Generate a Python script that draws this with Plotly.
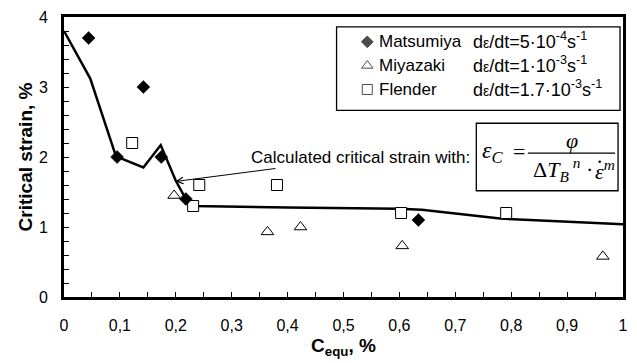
import plotly.graph_objects as go

# Measured critical strain (%) versus carbon equivalent (%)
mat_x = [0.044, 0.095, 0.142, 0.174, 0.218, 0.634]
mat_y = [3.70, 2.00, 3.00, 2.00, 1.40, 1.10]

miy_x = [0.197, 0.364, 0.423, 0.605, 0.964]
miy_y = [1.45, 0.93, 1.00, 0.73, 0.58]

fle_x = [0.122, 0.231, 0.242, 0.381, 0.603, 0.791]
fle_y = [2.20, 1.30, 1.60, 1.60, 1.20, 1.20]

# Calculated critical strain curve
calc_x = [0.0, 0.047, 0.093, 0.142, 0.173, 0.200, 0.218, 0.231, 0.40, 0.60, 0.64, 0.70, 0.78, 1.0]
calc_y = [3.80, 3.12, 2.01, 1.85, 2.17, 1.66, 1.40, 1.30, 1.28, 1.26, 1.245, 1.19, 1.12, 1.04]

x_ticks = [i / 10 for i in range(11)]
x_ticktext = ["0", "0,1", "0,2", "0,3", "0,4", "0,5", "0,6", "0,7", "0,8", "0,9", "1"]
y_ticks = [0, 1, 2, 3, 4]

series_names = ["Matsumiya", "Miyazaki", "Flender"]
series_rates = [
    "d<span style='font-size:14px'>ε</span>/dt=5·10<sup>-4</sup>s<sup>-1</sup>",
    "d<span style='font-size:14px'>ε</span>/dt=1·10<sup>-3</sup>s<sup>-1</sup>",
    "d<span style='font-size:14px'>ε</span>/dt=1.7·10<sup>-3</sup>s<sup>-1</sup>",
]
series_symbols = ["diamond", "triangle-up", "square"]
series_fill = ["black", "white", "white"]
series_sizes = [9, 10, 10]

SANS = "Liberation Sans, Arial, sans-serif"
SERIF = "Liberation Serif, Times New Roman, serif"

W, H = 637, 363
ML, MR, MT, MB = 64, 9, 15, 66
PW, PH = W - ML - MR, H - MT - MB


def px(xp):
    return (xp - ML) / PW


def py(yp):
    return (H - MB - yp) / PH


fig = go.Figure()

fig.add_trace(go.Scatter(
    x=calc_x, y=calc_y, mode="lines",
    line=dict(color="black", width=2.5), showlegend=False, hoverinfo="skip",
))
fig.add_trace(go.Scatter(
    x=miy_x, y=miy_y, mode="markers", name="Miyazaki",
    marker=dict(symbol="triangle-up", size=11, color="white",
                line=dict(color="black", width=1)),
    showlegend=False,
))
fig.add_trace(go.Scatter(
    x=fle_x, y=fle_y, mode="markers", name="Flender",
    marker=dict(symbol="square", size=11, color="white",
                line=dict(color="black", width=1)),
    showlegend=False,
))
fig.add_trace(go.Scatter(
    x=mat_x, y=mat_y, mode="markers", name="Matsumiya",
    marker=dict(symbol="diamond", size=10, color="black",
                line=dict(color="black", width=0.5)),
    showlegend=False,
))

# Key box with symbols on an overlay axis spanning the plotting area
row_y = [40, 64, 88]
fig.add_trace(go.Scatter(
    x=[px(370)] * 3, y=[py(v) for v in row_y], mode="markers",
    xaxis="x2", yaxis="y2", showlegend=False, hoverinfo="skip",
    marker=dict(symbol=series_symbols, size=series_sizes, color=series_fill,
                line=dict(color="black", width=1)),
))

annotations = []
for name, rate, yv in zip(series_names, series_rates, row_y):
    annotations.append(dict(
        xref="paper", yref="paper", x=px(380), y=py(yv), text=name,
        showarrow=False, xanchor="left", yanchor="middle",
        font=dict(family=SANS, size=17, color="black"),
    ))
    annotations.append(dict(
        xref="paper", yref="paper", x=px(475), y=py(yv - 1), text=rate,
        showarrow=False, xanchor="left", yanchor="middle",
        font=dict(family=SANS, size=18, color="black"),
    ))

# Pointer to the calculated curve
annotations.append(dict(
    x=0.199, y=1.65, xref="x", yref="y",
    text="Calculated critical strain with:",
    showarrow=True, arrowhead=5, arrowsize=1.3, arrowwidth=1, arrowcolor="black",
    ax=185, ay=-24, xanchor="center", yanchor="middle",
    font=dict(family=SANS, size=17, color="black"),
))

# Formula for the calculated critical strain
annotations.append(dict(
    xref="paper", yref="paper", x=px(484), y=py(151), text="<i>ε<sub>C</sub></i>",
    showarrow=False, xanchor="left", yanchor="middle",
    font=dict(family=SERIF, size=24, color="black"),
))
annotations.append(dict(
    xref="paper", yref="paper", x=px(523), y=py(150), text="=",
    showarrow=False, xanchor="center", yanchor="middle",
    font=dict(family=SERIF, size=22, color="black"),
))
annotations.append(dict(
    xref="paper", yref="paper", x=px(577), y=py(139), text="<i>φ</i>",
    showarrow=False, xanchor="center", yanchor="middle",
    font=dict(family=SERIF, size=22, color="black"),
))
annotations.append(dict(
    xref="paper", yref="paper", x=px(535), y=py(169),
    text="Δ<i>T<sub>B</sub></i><sup> <i>n</i></sup> ·",
    showarrow=False, xanchor="left", yanchor="middle",
    font=dict(family=SERIF, size=22, color="black"),
))
annotations.append(dict(
    xref="paper", yref="paper", x=px(598), y=py(169),
    text="<i>ε<sup>m</sup></i>",
    showarrow=False, xanchor="left", yanchor="middle",
    font=dict(family=SERIF, size=22, color="black"),
))

shapes = [
    dict(type="rect", xref="paper", yref="paper",
         x0=px(339), x1=px(625), y0=py(25), y1=py(109),
         line=dict(color="black", width=1.3), fillcolor="white", layer="below"),
    dict(type="rect", xref="paper", yref="paper",
         x0=px(480), x1=px(623), y0=py(122), y1=py(190),
         line=dict(color="black", width=1.3), fillcolor="white", layer="below"),
    dict(type="line", xref="paper", yref="paper",
         x0=px(532), x1=px(620), y0=py(152), y1=py(152),
         line=dict(color="black", width=1.2)),
    # dot accent over the strain rate symbol
    dict(type="circle", xref="paper", yref="paper",
         x0=px(603.2), x1=px(605.8), y0=py(162.0), y1=py(159.4),
         line=dict(color="black", width=0), fillcolor="black"),
]

fig.update_layout(
    width=W, height=H,
    margin=dict(l=ML, r=MR, t=MT, b=MB),
    paper_bgcolor="white", plot_bgcolor="white",
    showlegend=False,
    font=dict(family=SANS, color="black"),
    annotations=annotations,
    shapes=shapes,
    xaxis=dict(
        range=[0, 1], tickvals=x_ticks, ticktext=x_ticktext,
        ticks="inside", ticklen=5, tickwidth=1.2, tickcolor="black",
        minor=dict(ticks="inside", ticklen=5, dtick=0.05, tickcolor="black", tickwidth=1.2),
        showline=True, linewidth=3, linecolor="black", mirror=True,
        showgrid=False, zeroline=False,
        tickfont=dict(family=SANS, size=16, color="black"),
        ticklabelstandoff=12,
        title=dict(text="<b>C<sub>equ</sub>, %</b>", standoff=6,
                   font=dict(family=SANS, size=19, color="black")),
    ),
    yaxis=dict(
        range=[0, 4], tickvals=y_ticks,
        ticks="inside", ticklen=5, tickwidth=1.2, tickcolor="black",
        minor=dict(ticks="inside", ticklen=5, dtick=0.2, tickcolor="black", tickwidth=1.2),
        showline=True, linewidth=3, linecolor="black", mirror=True,
        showgrid=False, zeroline=False,
        tickfont=dict(family=SANS, size=16, color="black"),
        ticklabelstandoff=10,
        title=dict(text="<b>Critical strain, %</b>", standoff=2,
                   font=dict(family=SANS, size=19, color="black")),
    ),
    xaxis2=dict(range=[0, 1], overlaying="x", visible=False, fixedrange=True),
    yaxis2=dict(range=[0, 1], overlaying="y", visible=False, fixedrange=True),
)

fig.write_html("out.html")
